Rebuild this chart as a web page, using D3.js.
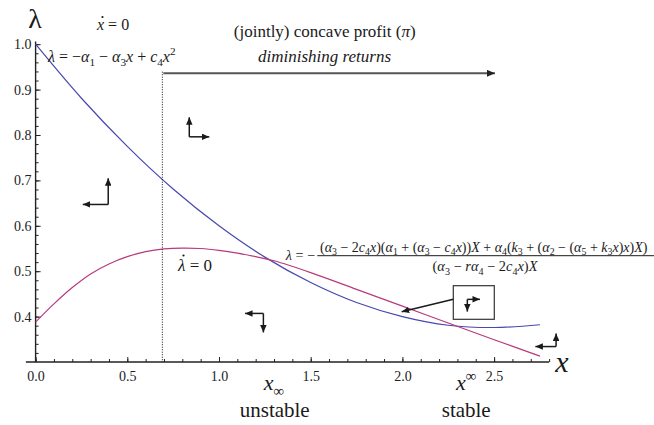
<!DOCTYPE html>
<html><head>
<script src="https://cdn.jsdelivr.net/npm/d3@7"></script>
</head><body style="margin:0">
<svg id="chart" width="654" height="425"></svg>
<script>
// ---------------- data ----------------
const blueX = [0, 0.25, 0.5, 0.75, 1.0, 1.25, 1.5, 1.75, 2.0, 2.25, 2.5, 2.75];
const blueY = [1.000, 0.881, 0.775, 0.681, 0.600, 0.531, 0.475, 0.431, 0.400, 0.381, 0.376, 0.382];
const magX = [0, 0.1, 0.2, 0.3, 0.4, 0.5, 0.6, 0.7, 0.8, 0.9, 1.0, 1.1, 1.2, 1.3, 1.5, 1.75, 2.0, 2.25, 2.5, 2.75];
const magY = [0.388, 0.428, 0.464, 0.494, 0.516, 0.532, 0.543, 0.549, 0.551, 0.550, 0.546, 0.540, 0.532, 0.523, 0.497, 0.460, 0.423, 0.386, 0.349, 0.313];
const xTickValues = [0, 0.5, 1.0, 1.5, 2.0, 2.5];
const xTickLabels = ["0.0", "0.5", "1.0", "1.5", "2.0", "2.5"];
const yTickValues = [0.4, 0.5, 0.6, 0.7, 0.8, 0.9, 1.0];
const yTickLabels = ["0.4", "0.5", "0.6", "0.7", "0.8", "0.9", "1.0"];
const xThreshold = 0.691;   // dotted line x
// direction arrows: corner (x, λ), horizontal tip x, vertical tip λ
const elbows = [
  {cx: 0.396, cy: 0.647, hx: 0.257, vy: 0.705},
  {cx: 0.838, cy: 0.796, hx: 0.947, vy: 0.839},
  {cx: 1.242, cy: 0.407, hx: 1.142, vy: 0.365},
  {cx: 2.838, cy: 0.334, hx: 2.725, vy: 0.363},
  {cx: 2.354, cy: 0.438, hx: 2.423, vy: 0.411}
];

// ---------------- setup ----------------
const SERIF = "Liberation Serif";
const svg = d3.select("#chart");
const x = d3.scaleLinear().domain([0, 2.5]).range([35.6, 494.1]);
const y = d3.scaleLinear().domain([0.3, 1.0]).range([362, 44.2]);

const defs = svg.append("defs");
function marker(id, color, len, wid) {
  defs.append("marker").attr("id", id)
    .attr("markerUnits", "userSpaceOnUse")
    .attr("viewBox", `0 ${-wid/2} ${len} ${wid}`)
    .attr("refX", len).attr("refY", 0)
    .attr("markerWidth", len).attr("markerHeight", wid)
    .attr("orient", "auto")
    .append("path").attr("d", `M0,${-wid/2}L${len},0L0,${wid/2}Z`).attr("fill", color);
}
marker("ah", "#1a1a1a", 7.5, 6.5);
marker("ahBig", "#222", 8, 7);

// ---------------- axes ----------------
const axisColor = "#222";
const gx = svg.append("g").attr("transform", `translate(0,${y(0.3)})`);
gx.call(d3.axisBottom(x).tickValues(d3.range(0, 2.81, 0.1)).tickSize(-3).tickFormat(""));
gx.select(".domain").remove();
const gx2 = svg.append("g").attr("transform", `translate(0,${y(0.3)})`);
gx2.call(d3.axisBottom(x).tickValues(xTickValues).tickSize(-5).tickPadding(9)
  .tickFormat((d, i) => xTickLabels[i]));
gx2.select(".domain").remove();
svg.append("line").attr("x1", x(-0.053)).attr("x2", x(2.80))
  .attr("y1", y(0.3)).attr("y2", y(0.3)).attr("stroke", axisColor).attr("stroke-width", 1.4);

const gy = svg.append("g").attr("transform", `translate(${x(0)},0)`);
gy.call(d3.axisLeft(y).tickValues(d3.range(0.32, 1.001, 0.02)).tickSize(-3).tickFormat(""));
gy.select(".domain").remove();
const gy2 = svg.append("g").attr("transform", `translate(${x(0)},0)`);
gy2.call(d3.axisLeft(y).tickValues(yTickValues).tickSize(-5).tickPadding(4)
  .tickFormat((d, i) => yTickLabels[i]));
gy2.select(".domain").remove();
svg.append("line").attr("x1", x(0)).attr("x2", x(0))
  .attr("y1", y(0.3)).attr("y2", y(1.006)).attr("stroke", axisColor).attr("stroke-width", 1.4);

[gx, gx2, gy, gy2].forEach(g => g.attr("font-family", SERIF).attr("font-size", 14));
svg.selectAll(".tick line").attr("stroke", axisColor).attr("stroke-width", 1);
svg.selectAll(".tick text").attr("font-family", SERIF).attr("font-size", 14).attr("fill", "#222");

// ---------------- curves ----------------
const line = d3.line().x(d => x(d[0])).y(d => y(d[1])).curve(d3.curveCatmullRom.alpha(0.5));
svg.append("path").datum(blueX.map((v, i) => [v, blueY[i]]))
  .attr("d", line).attr("fill", "none").attr("stroke", "#4848b0").attr("stroke-width", 1.2);
svg.append("path").datum(magX.map((v, i) => [v, magY[i]]))
  .attr("d", line).attr("fill", "none").attr("stroke", "#b83a7c").attr("stroke-width", 1.2);

svg.append("line").attr("x1", x(xThreshold)).attr("x2", x(xThreshold))
  .attr("y1", 71.7).attr("y2", y(0.3))
  .attr("stroke", "#111").attr("stroke-width", 1).attr("stroke-dasharray", "1,1.5");

svg.append("line").attr("x1", x(xThreshold) + 1).attr("x2", 495)
  .attr("y1", 73.3).attr("y2", 73.3)
  .attr("stroke", "#555").attr("stroke-width", 2).attr("marker-end", "url(#ahBig)");

elbows.forEach(e => {
  const cx = x(e.cx), cy = y(e.cy);
  svg.append("line").attr("x1", cx).attr("y1", cy).attr("x2", x(e.hx)).attr("y2", cy)
    .attr("stroke", "#1a1a1a").attr("stroke-width", 1.5).attr("marker-end", "url(#ah)");
  svg.append("line").attr("x1", cx).attr("y1", cy).attr("x2", cx).attr("y2", y(e.vy))
    .attr("stroke", "#1a1a1a").attr("stroke-width", 1.5).attr("marker-end", "url(#ah)");
});

svg.append("rect").attr("x", 453.3).attr("y", 285.7).attr("width", 41).attr("height", 33.6)
  .attr("fill", "none").attr("stroke", "#333").attr("stroke-width", 1.2);
svg.append("line").attr("x1", 453.3).attr("y1", 299.3).attr("x2", 401.7).attr("y2", 311.7)
  .attr("stroke", "#1a1a1a").attr("stroke-width", 1.5).attr("marker-end", "url(#ah)");

// ---------------- text helpers ----------------
function mathText(str, px, py, size, anchor) {
  const t = svg.append("text").attr("x", px).attr("y", py)
    .attr("font-family", SERIF).attr("font-size", size)
    .attr("text-anchor", anchor || "start").attr("fill", "#1a1a1a");
  const toks = [];
  for (let i = 0; i < str.length; i++) {
    const c = str[i];
    if ((c === "_" || c === "^") && i + 1 < str.length) { toks.push({ch: str[i + 1], lv: c}); i++; }
    else toks.push({ch: c, lv: ""});
  }
  const groups = [];
  toks.forEach(tk => {
    const it = /[A-Za-zα-ωλπ]/.test(tk.ch);
    const last = groups[groups.length - 1];
    if (last && last.it === it && last.lv === tk.lv) last.s += tk.ch;
    else groups.push({s: tk.ch, it, lv: tk.lv});
  });
  let cur = 0;
  groups.forEach(g => {
    const off = g.lv === "_" ? size * 0.25 : g.lv === "^" ? -size * 0.42 : 0;
    const ts = t.append("tspan").text(g.s).attr("dy", off - cur)
      .attr("font-style", g.it ? "italic" : "normal");
    if (g.lv) ts.attr("font-size", size * 0.7);
    cur = off;
  });
  return t;
}
function plainText(str, px, py, size, anchor, style) {
  return svg.append("text").attr("x", px).attr("y", py)
    .attr("font-family", SERIF).attr("font-size", size)
    .attr("text-anchor", anchor || "start").attr("font-style", style || "normal")
    .attr("fill", "#1a1a1a").text(str);
}

// ---------------- labels ----------------
plainText("λ", 35, 28, 28, "middle");
mathText("x", 562, 372, 30, "middle");

mathText("x = 0", 97, 30, 16, "start");
svg.append("circle").attr("cx", 102.5).attr("cy", 17).attr("r", 1.1).attr("fill", "#1a1a1a");

mathText("λ = −α_1 − α_3x + c_4x^2", 48, 62, 16, "start");

const tt = svg.append("text").attr("x", 324.7).attr("y", 37).attr("font-family", SERIF)
  .attr("font-size", 17).attr("text-anchor", "middle").attr("fill", "#1a1a1a");
tt.append("tspan").text("(jointly) concave profit (");
tt.append("tspan").text("π").attr("font-style", "italic");
tt.append("tspan").text(")");
plainText("diminishing returns", 324.5, 61.7, 17, "middle", "italic");

mathText("λ = 0", 178, 270.7, 17, "start");
svg.append("circle").attr("cx", 183.5).attr("cy", 255.5).attr("r", 1.1).attr("fill", "#1a1a1a");

mathText("λ = −", 315, 260, 14.2, "end");
mathText("(α_3 − 2c_4x)(α_1 + (α_3 − c_4x))X + α_4(k_3 + (α_2 − (α_5 + k_3x)x)X)", 320, 251.7, 14, "start");
svg.append("line").attr("x1", 317.3).attr("x2", 660).attr("y1", 255.7).attr("y2", 255.7)
  .attr("stroke", "#1a1a1a").attr("stroke-width", 1);
mathText("(α_3 − rα_4 − 2c_4x)X", 485, 271, 14.4, "middle");

mathText("x_∞", 274, 390, 22, "middle");
mathText("x^∞", 456, 390, 22, "start");
plainText("unstable", 274.7, 417.3, 21, "middle");
plainText("stable", 466.2, 417.3, 21, "middle");
</script>
</body></html>
